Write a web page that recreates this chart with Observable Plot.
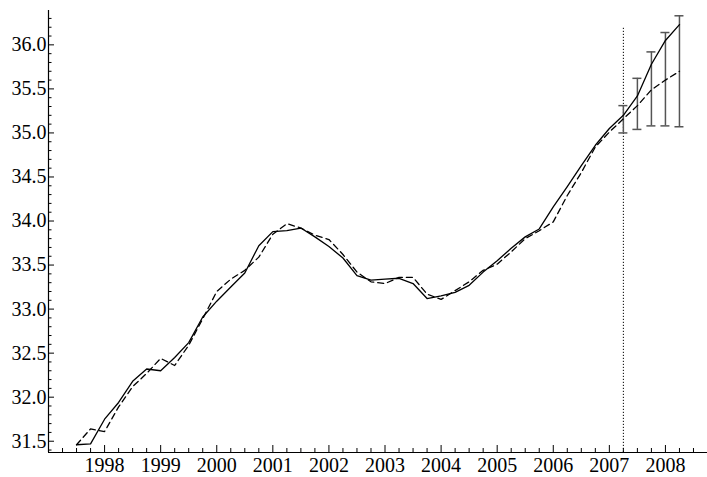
<!DOCTYPE html>
<html><head><meta charset="utf-8">
<script src="https://cdn.jsdelivr.net/npm/d3@7"></script>
<script src="https://cdn.jsdelivr.net/npm/@observablehq/plot@0.6"></script>
<style>html,body{margin:0;padding:0;background:#fff}svg{display:block}
svg text{font-family:"Liberation Serif","Times New Roman",serif !important;font-size:20px !important}
</style>
</head><body><div id="chart"></div>
<script>
const quarters = [1997.5,1997.75,1998,1998.25,1998.5,1998.75,1999,1999.25,1999.5,1999.75,
  2000,2000.25,2000.5,2000.75,2001,2001.25,2001.5,2001.75,2002,2002.25,2002.5,2002.75,
  2003,2003.25,2003.5,2003.75,2004,2004.25,2004.5,2004.75,2005,2005.25,2005.5,2005.75,
  2006,2006.25,2006.5,2006.75,2007,2007.25,2007.5,2007.75,2008,2008.25];
const solidSeries = [31.46,31.47,31.75,31.94,32.18,32.32,32.30,32.45,32.62,32.91,
  33.09,33.25,33.41,33.72,33.88,33.89,33.92,33.82,33.71,33.58,33.38,33.33,
  33.34,33.35,33.29,33.12,33.15,33.19,33.27,33.42,33.55,33.69,33.82,33.91,
  34.16,34.39,34.63,34.86,35.05,35.20,35.42,35.78,36.05,36.23];
const dashedSeries = [31.46,31.64,31.61,31.89,32.12,32.27,32.44,32.36,32.59,32.89,
  33.20,33.34,33.44,33.59,33.85,33.97,33.92,33.84,33.79,33.62,33.42,33.31,
  33.29,33.36,33.36,33.17,33.11,33.21,33.31,33.44,33.51,33.65,33.80,33.89,
  33.99,34.29,34.55,34.84,35.01,35.16,35.31,35.49,35.60,35.70];
const errQuarters = [2007.25,2007.5,2007.75,2008,2008.25];
const errLow = [35.00,35.04,35.08,35.08,35.07];
const errHigh = [35.31,35.62,35.92,36.14,36.33];
const forecastStart = 2007.25;
const dividerTop = 36.2;
const xDomain = [1997, 2008.75];
const yDomain = [31.372, 36.39];
const xMajor = [1998,1999,2000,2001,2002,2003,2004,2005,2006,2007,2008];
const xMinor = [1997.25,1997.5,1997.75,1998.25,1998.5,1998.75,1999.25,1999.5,1999.75,
  2000.25,2000.5,2000.75,2001.25,2001.5,2001.75,2002.25,2002.5,2002.75,2003.25,2003.5,2003.75,
  2004.25,2004.5,2004.75,2005.25,2005.5,2005.75,2006.25,2006.5,2006.75,2007.25,2007.5,2007.75,
  2008.25,2008.5];
const yMajor = [31.5,32.0,32.5,33.0,33.5,34.0,34.5,35.0,35.5,36.0];
const yMinor = [31.4,31.6,31.7,31.8,31.9,32.1,32.2,32.3,32.4,32.6,32.7,32.8,32.9,
  33.1,33.2,33.3,33.4,33.6,33.7,33.8,33.9,34.1,34.2,34.3,34.4,34.6,34.7,34.8,34.9,
  35.1,35.2,35.3,35.4,35.6,35.7,35.8,35.9,36.1,36.2,36.3];

const solidRows = quarters.map((q, i) => ({q, v: solidSeries[i]}));
const dashedRows = quarters.map((q, i) => ({q, v: dashedSeries[i]}));
const errRows = errQuarters.map((q, i) => ({q, lo: errLow[i], hi: errHigh[i]}));

const errColor = "#555";
const chart = Plot.plot({
  width: 707, height: 477,
  marginLeft: 48, marginRight: 0, marginTop: 10, marginBottom: 25,
  style: {fontFamily: "Liberation Serif, Times New Roman, serif", fontSize: "20px", background: "white", color: "black"},
  x: {domain: xDomain, axis: null},
  y: {domain: yDomain, axis: null},
  marks: [
    Plot.ruleX([xDomain[0]], {y1: yDomain[0], y2: yDomain[1], stroke: "black", strokeWidth: 1.2}),
    Plot.ruleY([yDomain[0]], {stroke: "black", strokeWidth: 1.2}),
    Plot.axisY(yMajor, {tickSize: 0, tickPadding: 2, tickFormat: d3.format(".1f"), label: null, fontVariant: "normal"}),
    Plot.axisY(yMajor, {tickSize: -6, fill: "none", label: null}),
    Plot.axisY(yMinor, {tickSize: -3.5, fill: "none", label: null}),
    Plot.axisX(xMajor, {tickSize: 0, tickPadding: 5, tickFormat: d => String(d), label: null, fontVariant: "normal"}),
    Plot.axisX(xMajor, {tickSize: -7, fill: "none", label: null}),
    Plot.axisX(xMinor, {tickSize: -4, fill: "none", label: null}),
    Plot.ruleX([forecastStart], {y1: yDomain[0], y2: dividerTop, stroke: "black", strokeWidth: 1, strokeDasharray: "1.2,1.8"}),
    Plot.ruleX(errRows, {x: "q", y1: "lo", y2: "hi", stroke: errColor, strokeWidth: 1.5}),
    Plot.ruleY(errRows, {y: "hi", x1: "q", x2: "q", insetLeft: -4.5, insetRight: -4.5, stroke: errColor, strokeWidth: 1.5}),
    Plot.ruleY(errRows, {y: "lo", x1: "q", x2: "q", insetLeft: -4.5, insetRight: -4.5, stroke: errColor, strokeWidth: 1.5}),
    Plot.line(dashedRows, {x: "q", y: "v", stroke: "black", strokeWidth: 1.3, strokeDasharray: "6,4"}),
    Plot.line(solidRows, {x: "q", y: "v", stroke: "black", strokeWidth: 1.3})
  ]
});
document.getElementById("chart").appendChild(chart);
</script>
</body></html>
